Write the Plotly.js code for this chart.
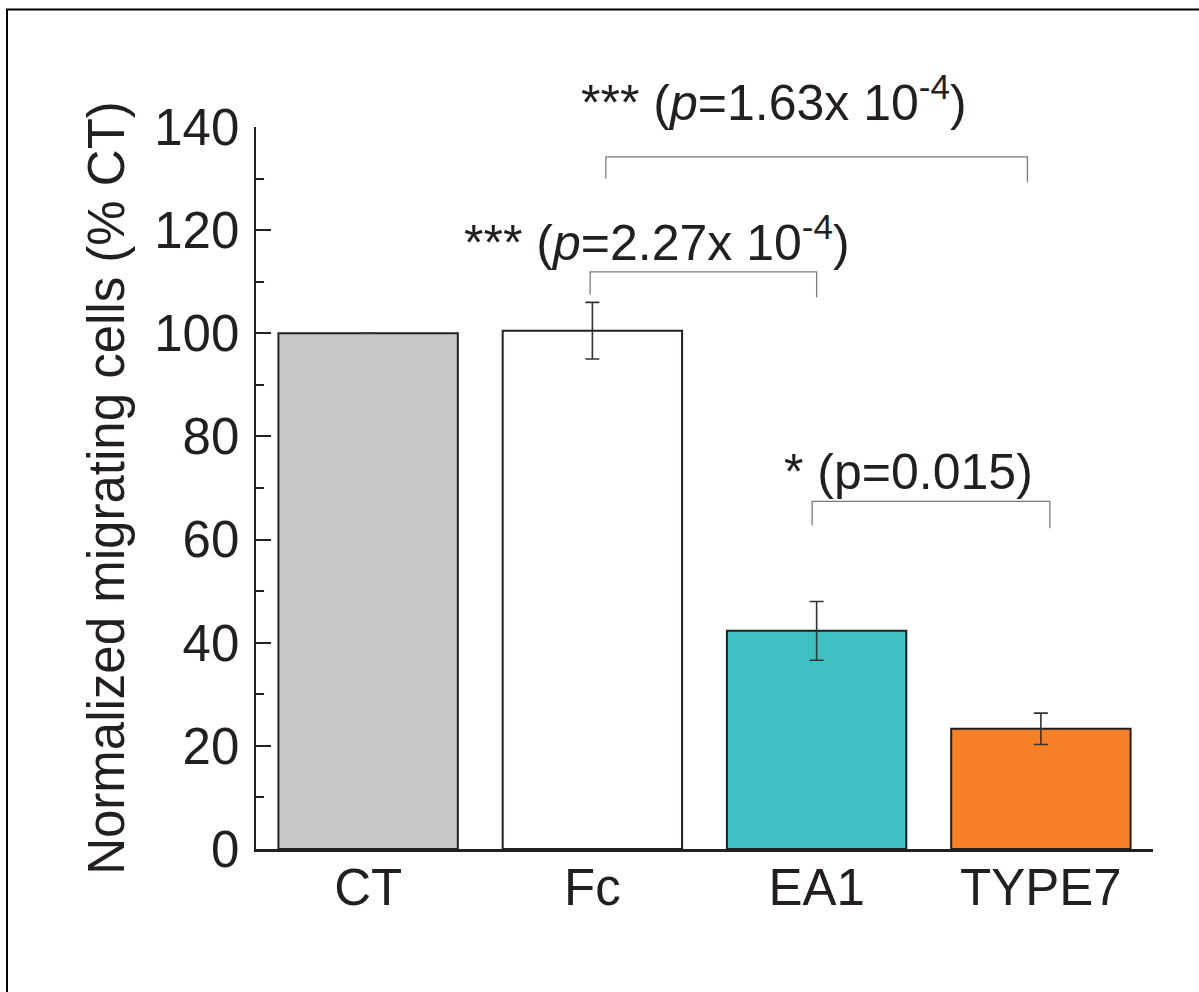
<!DOCTYPE html>
<html><head><meta charset="utf-8">
<script src="https://cdn.plot.ly/plotly-3.0.1.min.js"></script>
<style>html,body{margin:0;padding:0;background:#fff}</style>
</head><body><div id="chart" style="width:1199px;height:992px"></div>
<script>
const categories = ['CT', 'Fc', 'EA1', 'TYPE7'];
const values = [100, 100.5, 42.3, 23.3];
const errors = [0, 5.5, 5.7, 3.05];
const barColors = ['#c7c8ca', '#ffffff', '#3fc0c2', '#f58025'];
const yTickVals = [0, 20, 40, 60, 80, 100, 120, 140];
const yTickText = ['0', '20', '40', '60', '80', '100', '120', '140'];
const yTitle = 'Normalized migrating cells (% CT)';
// significance brackets (x in category index units, y in data units)
const bracketLeft = [0.99, 1.98, 1.06];
const bracketRight = [2.00, 3.04, 2.94];
const bracketTop = [111.9, 67.4, 134.2];
const bracketLeftEnd = [107.5, 62.8, 130.0];
const bracketRightEnd = [107.0, 62.2, 129.3];
const sigLabels = ['*** (<i>p</i>=2.27x 10<sup>-4</sup>)', '* (p=0.015)', '*** (<i>p</i>=1.63x 10<sup>-4</sup>)'];
const sigLabelX = [1.29, 2.41, 1.81];
const sigLabelY = [118.3, 73.1, 145.5];

const yMax = 140;
const ink = '#231f20';
const fontFam = '"Liberation Sans", Arial, Helvetica, sans-serif';

const shapes = bracketLeft.map((x0, i) => ({
  type: 'path', xref: 'x', yref: 'y',
  path: `M ${x0},${bracketLeftEnd[i]} L ${x0},${bracketTop[i]} L ${bracketRight[i]},${bracketTop[i]} L ${bracketRight[i]},${bracketRightEnd[i]}`,
  line: {color: '#7a7a7a', width: 1.3}
}));
// outer frame
shapes.push({type: 'rect', xref: 'paper', yref: 'paper', x0: (7 - 256) / 897, x1: 1.06, y0: -0.22, y1: (849 - 9.5) / 722,
  line: {color: '#000', width: 2}, fillcolor: 'rgba(0,0,0,0)'});

const annotations = sigLabels.map((t, i) => ({
  text: t, xref: 'x', yref: 'paper', x: sigLabelX[i], y: sigLabelY[i] / yMax,
  xanchor: 'center', yanchor: 'middle', showarrow: false,
  font: {family: fontFam, size: 50, color: ink}
}));

const trace = {
  type: 'bar', x: [0, 1, 2, 3], y: values,
  marker: {color: barColors, line: {color: ink, width: 2}},
  error_y: {type: 'data', array: errors, visible: true, color: '#333333', thickness: 1.6, width: 7},
  hoverinfo: 'none'
};

const layout = {
  width: 1199, height: 992,
  margin: {l: 256, r: 46, t: 127, b: 143, pad: 0},
  paper_bgcolor: '#fff', plot_bgcolor: '#fff',
  showlegend: false, bargap: 0.2,
  font: {family: fontFam, color: ink},
  xaxis: {
    range: [-0.5, 3.5], tickvals: [0, 1, 2, 3], ticktext: categories,
    showline: true, linecolor: ink, linewidth: 3, ticks: '', showgrid: false, zeroline: false,
    tickfont: {size: 51, color: ink}, ticklabelstandoff: -8, fixedrange: true
  },
  yaxis: {
    range: [0, yMax], tickvals: yTickVals, ticktext: yTickText,
    showline: true, linecolor: ink, linewidth: 2.5,
    ticks: 'inside', ticklen: 15, tickwidth: 2, tickcolor: ink,
    minor: {ticks: 'inside', ticklen: 8, tickwidth: 2, tickcolor: ink, dtick: 10, showgrid: false},
    showgrid: false, zeroline: false,
    tickfont: {size: 51, color: ink}, ticklabelstandoff: 4,
    title: {text: yTitle, font: {size: 51, color: ink}, standoff: 14}
  },
  shapes: shapes, annotations: annotations
};

Plotly.newPlot('chart', [trace], layout, {displayModeBar: false, staticPlot: true});
</script></body></html>
